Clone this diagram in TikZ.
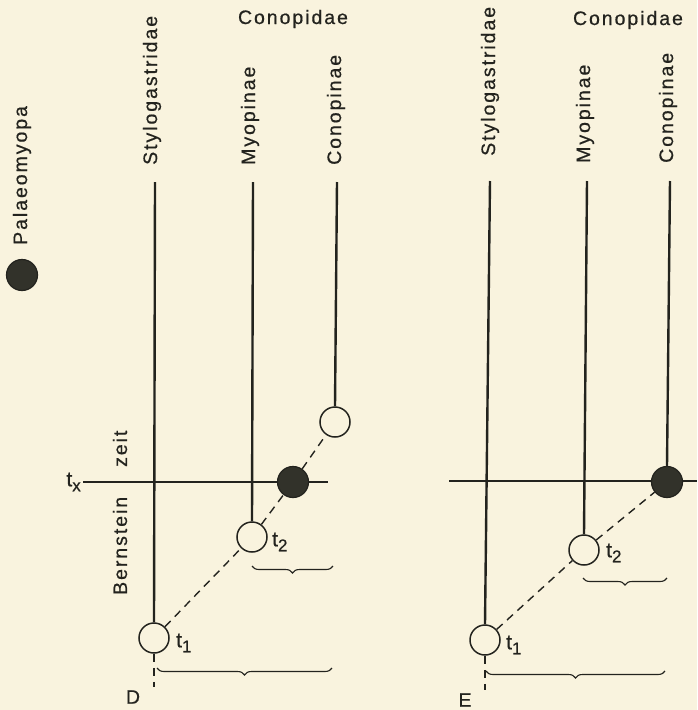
\documentclass[tikz,border=0pt]{standalone}
\usepackage{fontspec}
\setmainfont[LetterSpace=10,FakeBold=0.6]{Liberation Sans}
\usetikzlibrary{decorations.pathreplacing}
\definecolor{bg}{RGB}{249,243,222}
\definecolor{ink}{RGB}{35,35,30}
\definecolor{dotc}{RGB}{50,50,42}
\newcommand{\tsub}[2]{{\fontsize{21}{22}\selectfont #1\raisebox{-0.45ex}{\fontsize{17}{17}\selectfont #2}}}
\begin{document}
\begin{tikzpicture}[x=1pt,y=-1pt,
  every node/.style={font=\fontsize{19.5}{22}\selectfont, text=ink, inner sep=0pt},
  vlabel/.style={rotate=90, anchor=west},
  stem/.style={draw=ink, line width=2.4pt},
  hline/.style={draw=ink, line width=1.7pt},
  dashline/.style={draw=ink, line width=1.4pt, dash pattern=on 8pt off 6pt},
  opencirc/.style={circle, draw=ink, line width=1.5pt, fill=bg, minimum size=30pt, inner sep=0pt},
  fullcirc/.style={circle, draw=ink, line width=1.2pt, fill=dotc, minimum size=31pt, inner sep=0pt},
  bracebar/.style={draw=ink, line width=1.1pt, decorate, decoration={brace, amplitude=7pt, mirror}},
]
\useasboundingbox (0,0) rectangle (697,710);
\fill[bg] (0,0) rectangle (697,710);

% ---------- left legend ----------
\node[vlabel] (palaeo) at (22,245) {Palaeomyopa};
\node[fullcirc] (pdot) at (22,275) {};

% ---------- panel D ----------
\node[vlabel] (dS) at (152,165) {Stylogastridae};
\node[vlabel] (dM) at (250,165) {Myopinae};
\node[vlabel] (dC) at (336,165) {Conopinae};
\node[anchor=base] (dfam) at (293,24) {Conopidae};

\coordinate (dSt) at (155,182);
\coordinate (dMt) at (253,182);
\coordinate (dCt) at (337,182);
\coordinate (dxL) at (83,482);
\coordinate (dxR) at (328,482);
\coordinate (dSb) at (154,687);

\draw[hline] (dxL) -- (dxR);
\node[anchor=east] (tx) at (81,482) {\tsub{t}{x}};
\node[vlabel] (zeit) at (120,467) {zeit};
\node[vlabel] (bern) at (120,595) {Bernstein};

\node[opencirc] (dt1) at (154,638) {};
\node[opencirc] (dt2) at (252,537) {};
\node[fullcirc] (dB) at (293,482) {};
\node[opencirc] (dC0) at (335,422) {};

\draw[stem] (dSt) -- (dt1.north);
\draw[stem] (dMt) -- (dt2.north);
\draw[stem] (dCt) -- (dC0.north);
\draw[dashline] (dt1) -- (dt2);
\draw[dashline] (dt2) -- (dB);
\draw[dashline] (dB) -- (dC0);
\draw[dashline] (dt1.south) -- (dSb);

\node[anchor=west] (ldt1) at (176,643) {\tsub{t}{1}};
\node[anchor=west] (ldt2) at (272,542) {\tsub{t}{2}};

\coordinate (dbr1a) at (252,566);
\coordinate (dbr1b) at (333,566);
\coordinate (dbr2a) at (157,668);
\coordinate (dbr2b) at (332,668);
\draw[bracebar] (dbr1a) -- (dbr1b);
\draw[bracebar] (dbr2a) -- (dbr2b);
\node (labD) at (133,697) {D};

% ---------- panel E ----------
\node[vlabel] (eS) at (490,156) {Stylogastridae};
\node[vlabel] (eM) at (585,163) {Myopinae};
\node[vlabel] (eC) at (668,163) {Conopinae};
\node[anchor=base] (efam) at (628,25) {Conopidae};

\coordinate (eSt) at (490,181);
\coordinate (eMt) at (587,181);
\coordinate (eCt) at (670,181);
\coordinate (exL) at (449,481);
\coordinate (exR) at (697,481);
\coordinate (eSb) at (485,690);

\draw[hline] (exL) -- (exR);

\node[opencirc] (et1) at (485,640) {};
\node[opencirc] (et2) at (584,550) {};
\node[fullcirc] (eB) at (667,482) {};

\draw[stem] (eSt) -- (et1.north);
\draw[stem] (eMt) -- (et2.north);
\draw[stem] (eCt) -- (eB.north);
\draw[dashline] (et1) -- (et2);
\draw[dashline] (et2) -- (eB);
\draw[dashline] (et1.south) -- (eSb);

\node[anchor=west] (let1) at (506,645) {\tsub{t}{1}};
\node[anchor=west] (let2) at (606,553) {\tsub{t}{2}};

\coordinate (ebr1a) at (583,578);
\coordinate (ebr1b) at (667,578);
\coordinate (ebr2a) at (486,671);
\coordinate (ebr2b) at (665,671);
\draw[bracebar] (ebr1a) -- (ebr1b);
\draw[bracebar] (ebr2a) -- (ebr2b);
\node (labE) at (465,700) {E};
\end{tikzpicture}
\end{document}
